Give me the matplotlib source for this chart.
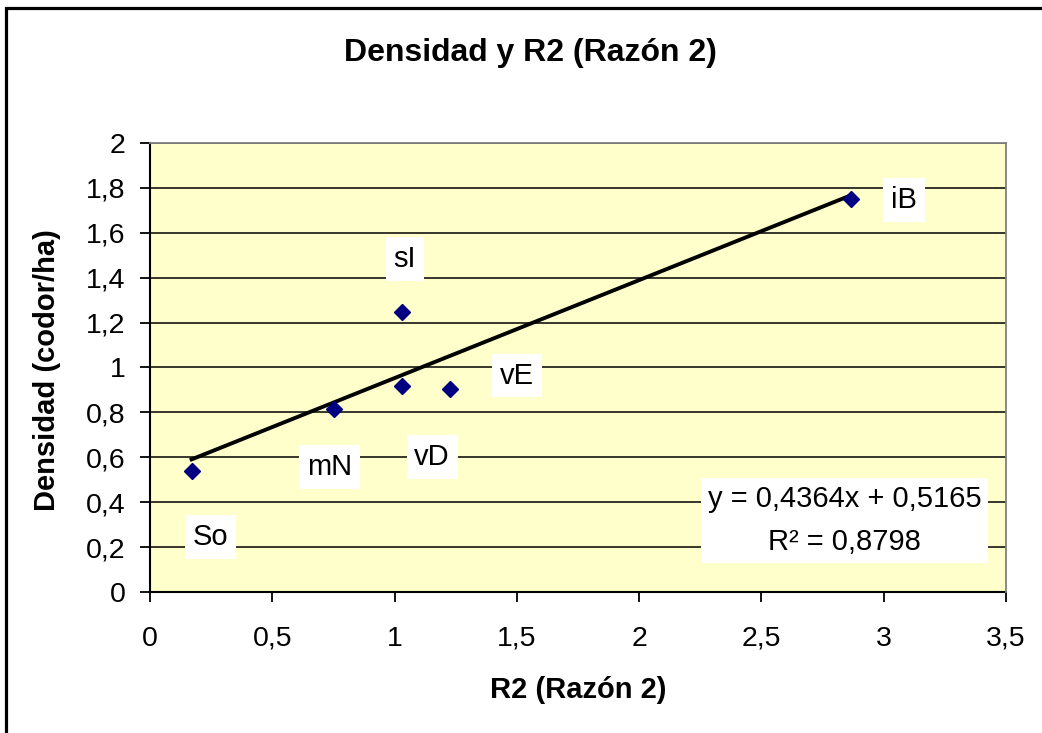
import matplotlib
matplotlib.use('Agg')
import matplotlib.pyplot as plt
from matplotlib.patches import Rectangle

# ---------------------------------------------------------------------------
# Data
# ---------------------------------------------------------------------------
sites = ["So", "mN", "vD", "vE", "sI", "iB"]
r2_ratio = [0.17, 0.754, 1.031, 1.226, 1.03, 2.865]
density = [0.54, 0.815, 0.916, 0.906, 1.247, 1.749]

trend_slope = 0.4364
trend_intercept = 0.5165
trend_r2 = 0.8798

x_ticks = [0, 0.5, 1, 1.5, 2, 2.5, 3, 3.5]
y_ticks = [0, 0.2, 0.4, 0.6, 0.8, 1, 1.2, 1.4, 1.6, 1.8, 2]

# label offsets from each point, in pixels (x right, y up)
label_offsets = [(19, -66), (-5, -58), (30, -71), (67, 13), (3, 53), (53, -1)]


def fmt_comma(v):
    s = f"{v:g}"
    return s.replace(".", ",")


plt.rcParams['font.family'] = ['Liberation Sans', 'DejaVu Sans']

fig = plt.figure(figsize=(10.42, 7.33), dpi=100)
ax = fig.add_axes([0.144, 0.1924, 0.8215, 0.6125])
ax.set_facecolor("#FFFFCC")

# gridlines
ax.set_axisbelow(True)
ax.yaxis.grid(True, color="black", linewidth=1.1)

# trendline over the data range
xs = [min(r2_ratio), max(r2_ratio)]
ax.plot(xs, [trend_slope * x + trend_intercept for x in xs],
        color="black", linewidth=2.8, zorder=3)

ax.plot(r2_ratio, density, linestyle="none", marker="D", markersize=8.5,
        color="#000080", markeredgecolor="#000080", zorder=4)

for name, x, y, (dx, dy) in zip(sites, r2_ratio, density, label_offsets):
    ax.annotate(name, (x, y), xytext=(dx, dy), textcoords="offset pixels",
                ha="center", va="center", fontsize=21, zorder=5,
                bbox=dict(boxstyle="square,pad=0.27", facecolor="white",
                          edgecolor="none"))

eq_text = (f"y = {fmt_comma(trend_slope)}x + {fmt_comma(trend_intercept)}\n"
           f"R² = {fmt_comma(trend_r2)}")
ax.text(0.8113, 0.159, eq_text, transform=ax.transAxes, ha="center",
        va="center", fontsize=21, linespacing=1.7, zorder=5,
        multialignment="center",
        bbox=dict(boxstyle="square,pad=0.22", facecolor="white",
                  edgecolor="none"))

ax.set_xlim(0, 3.5)
ax.set_ylim(0, 2)
ax.set_xticks(x_ticks)
ax.set_yticks(y_ticks)
ax.set_xticklabels([fmt_comma(v) for v in x_ticks])
ax.set_yticklabels([fmt_comma(v) for v in y_ticks])
ax.tick_params(axis="both", direction="out", length=7.5, width=1.3,
               labelsize=20.5, color="black")
ax.tick_params(axis="y", pad=10)
ax.tick_params(axis="x", pad=17)

for side in ["left", "bottom"]:
    ax.spines[side].set_color("black")
    ax.spines[side].set_linewidth(1.5)
for side in ["top", "right"]:
    ax.spines[side].set_color("#808080")
    ax.spines[side].set_linewidth(1.3)
    ax.spines[side].set_zorder(3)

ax.set_xlabel("R2 (Razón 2)", fontsize=21, fontweight="bold", va="center")
ax.xaxis.set_label_coords(0.5, -0.218)
ax.set_ylabel("Densidad (codor/ha)", fontsize=21, fontweight="bold",
              va="center")
ax.yaxis.set_label_coords(-0.1203, 0.494)

fig.text(0.5086, 0.9277, "Densidad y R2 (Razón 2)", ha="center",
         va="center", fontsize=23, fontweight="bold")

# outer chart border (right and bottom edges fall outside the image)
fig.add_artist(Rectangle((0.0053, -0.2), 1.5, 1.189, transform=fig.transFigure,
                         fill=False, edgecolor="black", linewidth=2.3))

fig.savefig("out.png", dpi=100)
